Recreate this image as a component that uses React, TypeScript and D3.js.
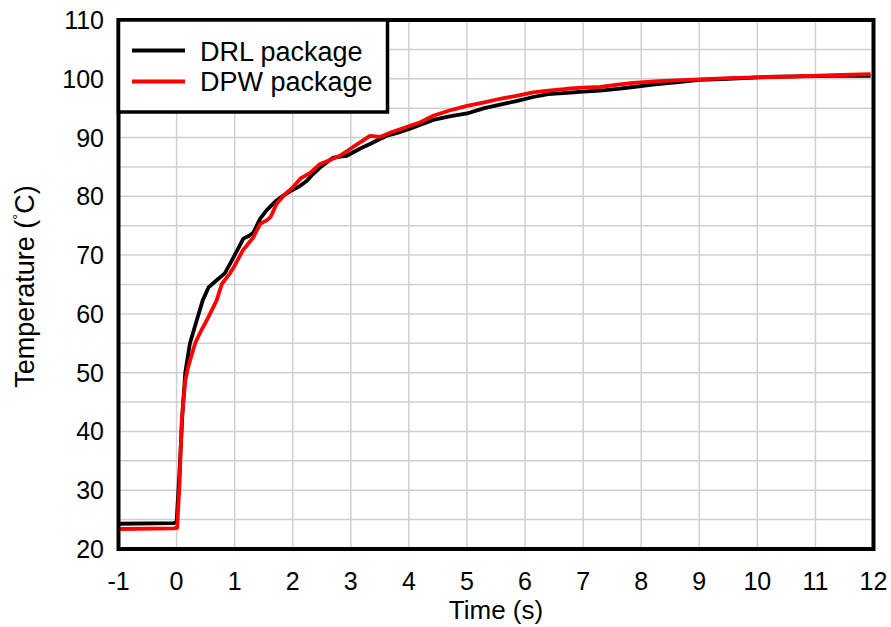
import React from "react";
import * as d3 from "d3";

const drlTime = [-1, -0.05, 0.0, 0.05, 0.1, 0.15, 0.23, 0.35, 0.45, 0.55, 0.7, 0.83, 0.92, 1.0, 1.08, 1.15, 1.25, 1.32, 1.44, 1.55, 1.72, 1.85, 1.98, 2.1, 2.24, 2.35, 2.47, 2.6, 2.7, 2.85, 2.93, 3.1, 3.2, 3.33, 3.45, 3.62, 3.8, 4.02, 4.2, 4.42, 4.7, 5.0, 5.3, 5.57, 5.85, 6.14, 6.4, 6.72, 7.0, 7.29, 7.6, 7.86, 8.2, 8.6, 9.0, 9.5, 10.16, 10.7, 11.3, 11.95];
const drlTemp = [24.3, 24.4, 24.6, 33, 43, 50, 55, 59, 62.3, 64.5, 65.8, 66.9, 68.5, 70, 71.5, 72.8, 73.3, 73.8, 76.2, 77.6, 79.3, 80.2, 81, 81.6, 82.6, 83.8, 84.9, 85.9, 86.6, 86.8, 86.9, 87.8, 88.3, 88.9, 89.5, 90.3, 90.8, 91.5, 92.2, 93.0, 93.6, 94.1, 95.0, 95.6, 96.2, 96.9, 97.4, 97.6, 97.8, 98.0, 98.3, 98.6, 99.0, 99.4, 99.8, 100.0, 100.3, 100.4, 100.5, 100.5];

const dpwTime = [-1, -0.05, 0.01, 0.05, 0.09, 0.15, 0.2, 0.32, 0.4, 0.55, 0.69, 0.78, 0.92, 1.0, 1.14, 1.32, 1.44, 1.55, 1.62, 1.72, 1.85, 2.0, 2.13, 2.3, 2.47, 2.6, 2.81, 2.95, 3.1, 3.33, 3.5, 3.7, 4.02, 4.2, 4.42, 4.7, 5.0, 5.3, 5.57, 5.85, 6.14, 6.4, 6.72, 7.0, 7.29, 7.6, 7.86, 8.3, 9.0, 9.5, 10.16, 10.7, 11.3, 11.95];
const dpwTemp = [23.4, 23.5, 23.6, 31, 42, 48.7, 51, 55, 56.7, 59.5, 62.3, 65.1, 66.9, 68.2, 70.8, 73, 75.3, 75.9, 76.5, 78.7, 80.2, 81.5, 83, 84, 85.5, 86.0, 86.9, 87.8, 88.8, 90.3, 90.1, 90.9, 92, 92.6, 93.7, 94.6, 95.4, 96.0, 96.6, 97.1, 97.7, 98.0, 98.3, 98.5, 98.6, 99.0, 99.3, 99.6, 99.9, 100.1, 100.3, 100.4, 100.6, 100.8];

const xTicks = [-1, 0, 1, 2, 3, 4, 5, 6, 7, 8, 9, 10, 11, 12];
const yTicks = [20, 30, 40, 50, 60, 70, 80, 90, 100, 110];
const yGrid = [25, 30, 35, 40, 45, 50, 55, 60, 65, 70, 75, 80, 85, 90, 95, 100, 105];
const seriesNames = ["DRL package", "DPW package"];
const seriesColors = ["#000000", "#ff0000"];

export default function App() {
  const x = d3.scaleLinear().domain([-1, 12]).range([118.5, 873.5]);
  const y = d3.scaleLinear().domain([20, 110]).range([549, 20]);
  const line = d3
    .line<[number, number]>()
    .x((d) => x(d[0]))
    .y((d) => y(d[1]));
  const drl = drlTime.map((t, i) => [t, drlTemp[i]] as [number, number]);
  const dpw = dpwTime.map((t, i) => [t, dpwTemp[i]] as [number, number]);
  const font = "Arial, 'Liberation Sans', sans-serif";
  const [x0, x1] = x.range();
  const [y0, y1] = y.range();

  return (
    <svg
      width={891}
      height={627}
      style={{ position: "absolute", left: 0, top: 0, background: "#fff" }}
      fontFamily={font}
    >
      <rect x={0} y={0} width={891} height={627} fill="#fff" />
      {xTicks.slice(1, -1).map((t) => (
        <line key={"gx" + t} x1={x(t)} x2={x(t)} y1={y1} y2={y0} stroke="#d0d0d0" strokeWidth={1.5} />
      ))}
      {yGrid.map((v) => (
        <line key={"gy" + v} x1={x0} x2={x1} y1={y(v)} y2={y(v)} stroke="#d0d0d0" strokeWidth={1.5} />
      ))}
      <path d={line(drl) || ""} fill="none" stroke={seriesColors[0]} strokeWidth={3.8} strokeLinejoin="round" />
      <path d={line(dpw) || ""} fill="none" stroke={seriesColors[1]} strokeWidth={3.8} strokeLinejoin="round" />
      <rect x={x0} y={y1} width={x1 - x0} height={y0 - y1} fill="none" stroke="#000" strokeWidth={4} />
      {/* legend */}
      <rect x={x0} y={y1} width={387.5 - x0} height={112 - y1} fill="#fff" stroke="#000" strokeWidth={3.5} />
      {seriesNames.map((n, i) => (
        <g key={n}>
          <line x1={132} x2={185} y1={50.5 + i * 31} y2={50.5 + i * 31} stroke={seriesColors[i]} strokeWidth={4} />
          <text x={200} y={61 + i * 30} fontSize={27} fill="#000">
            {n}
          </text>
        </g>
      ))}
      {xTicks.map((t) => (
        <text key={"xt" + t} x={x(t)} y={590} fontSize={25} textAnchor="middle" fill="#000">
          {t}
        </text>
      ))}
      {yTicks.map((v) => (
        <text key={"yt" + v} x={104} y={y(v)} dy="0.36em" fontSize={25} textAnchor="end" fill="#000">
          {v}
        </text>
      ))}
      <text x={(x0 + x1) / 2} y={619} fontSize={26} textAnchor="middle" fill="#000">
        Time (s)
      </text>
      <text transform={`translate(34, ${(y0 + y1) / 2 + 2}) rotate(-90)`} fontSize={27} textAnchor="middle" fill="#000">
        Temperature (
        <tspan fontSize={15} dy={-11}>
          °
        </tspan>
        <tspan dy={11}>C)</tspan>
      </text>
    </svg>
  );
}
